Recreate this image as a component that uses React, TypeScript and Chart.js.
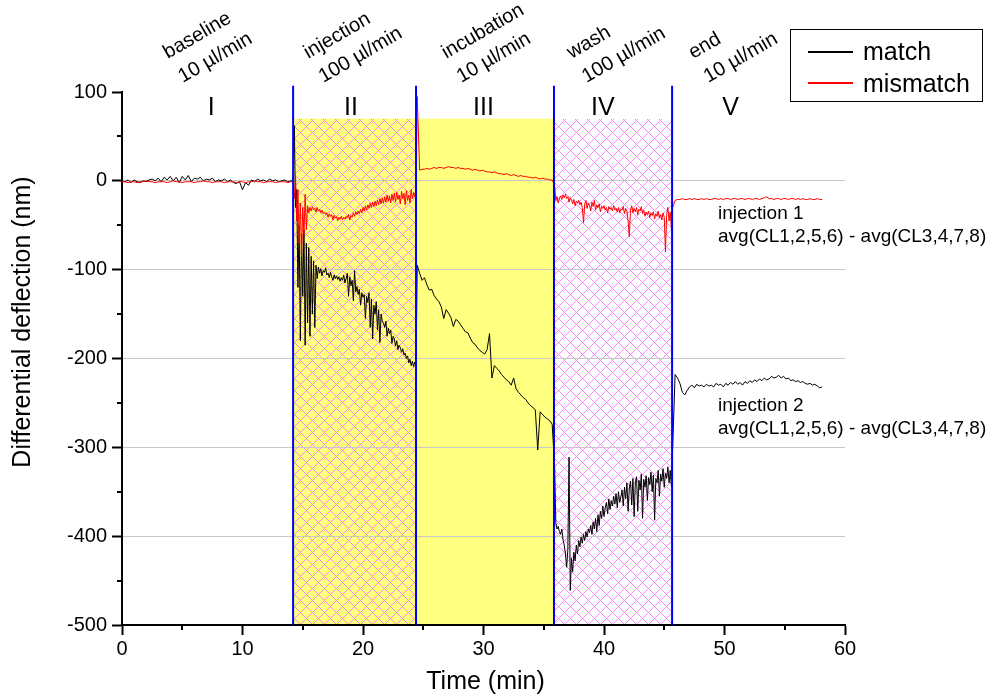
import { useEffect, useRef } from "react";
import { Chart, registerables } from "chart.js";

Chart.register(...registerables);

const FONT = '"Liberation Sans", Arial, Helvetica, sans-serif';

// ---- experiment phases (minutes) ----
const phaseEdges = [14.2, 24.4, 35.85, 45.65];
const phaseNames = ["baseline", "injection", "incubation", "wash", "end"];
const phaseFlows = ["10 µl/min", "100 µl/min", "10 µl/min", "100 µl/min", "10 µl/min"];
const phaseNumerals = ["I", "II", "III", "IV", "V"];
const numeralX = [7.4, 19.0, 30.0, 39.9, 50.5];
const phaseLabelX = [3.8, 15.45, 26.9, 37.3, 47.4];
const shadeTop = 70;

const xTicks = [0, 10, 20, 30, 40, 50, 60];
const yTicks = [-500, -400, -300, -200, -100, 0, 100];

// ---- match trace (nm) ----
// 0 – 14 min, every 0.25 min
const matchBaseline = [
  0, -1, 1, -2, 1, -1, -2, 0, -1, 1,
  2, 0, 3, -1, 4, 1, 5, 0, 4, -2,
  5, 1, 6, -1, 3, 2, 4, 0, 2, 1,
  3, -1, 1, 0, 2, -1, 1, -2, -3, -1,
  -10, -2, -5, 1, -1, 2, 0, 1, -1, 2,
  0, 1, -1, 0, 1, -1, 0,
];
// 14.2 – 24.4 min, every 0.1 min
const matchInjection = [
  0, 62, -30, -10, -120, -50, -180, -60, -130, -55,
  -185, -70, -160, -75, -175, -85, -150, -90, -165, -95,
  -110, -97, -104, -99, -107, -101, -103, -98, -106, -104,
  -109, -103, -108, -112, -106, -110, -107, -111, -108, -113,
  -109, -112, -106, -115, -110, -104, -130, -108, -118, -112,
  -135, -101, -125, -119, -128, -122, -140, -126, -131, -128,
  -155, -130, -137, -126, -165, -133, -178, -140, -150, -136,
  -168, -145, -182, -150, -158, -160, -165, -158, -175, -166,
  -172, -168, -183, -175, -178, -186, -180, -190, -185, -188,
  -193, -189, -196, -194, -200, -197, -205, -201, -208, -203,
  -209, -204, -208,
];
// 24.5 – 35.7 min, every 0.2 min
const matchIncubation = [
  -95, -104, -112, -109, -117, -123, -122, -129, -133, -136,
  -142, -155, -145, -149, -154, -164, -156, -158, -162, -166,
  -170, -171, -177, -182, -184, -188, -191, -193, -195, -190,
  -172, -222, -208, -211, -214, -218, -221, -224, -226, -230,
  -222, -234, -238, -241, -244, -246, -250, -253, -255, -258,
  -303, -260, -263, -266, -268, -270, -274,
];
// 35.9 – 45.6 min, every 0.1 min
const matchWash = [
  -320, -385, -392, -389, -395, -398, -392, -404, -410, -420,
  -435, -415, -311, -461, -425, -440, -418, -428, -410, -420,
  -405, -412, -401, -408, -398, -405, -395, -401, -392, -396,
  -388, -398, -384, -392, -380, -395, -376, -388, -372, -380,
  -366, -378, -368, -362, -375, -358, -370, -360, -366, -355,
  -364, -352, -368, -350, -362, -356, -348, -366, -345, -358,
  -340, -372, -346, -338, -365, -335, -378, -340, -333, -372,
  -337, -348, -330, -380, -336, -345, -332, -360, -334, -342,
  -328, -350, -331, -382, -335, -340, -326, -355, -330, -338,
  -324, -345, -329, -335, -322, -340, -326, -345,
];
// 45.7 – 58.1 min, every 0.2 min
const matchEnd = [
  -300, -218, -222, -228, -238, -241, -236, -232, -230, -233,
  -229, -231, -230, -232, -229, -231, -230, -232, -228, -230,
  -229, -232, -228, -230, -227, -229, -226, -229, -227, -230,
  -226, -228, -225, -227, -224, -226, -223, -225, -222, -224,
  -223, -220, -222, -221, -219, -222, -220, -223, -222, -225,
  -224, -226, -225, -227, -226, -228, -229, -228, -230, -229,
  -231, -233, -232,
];

// ---- mismatch trace (nm) ----
const mismatchBaseline = [
  -1, -1, -2, -1, -1, -2, -1, -1, 0, -1,
  -1, -2, -1, -1, -1, -2, -1, 0, -1, -1,
  -2, -1, -1, -1, -2, -1, -1, 0, -1, -1,
  -2, -1, -1, -1, -2, -1, -1, -1, -2, -1,
  -1, -2, -1, -1, 0, -1, -1, -2, -1, -1,
  -1, -2, -1, -1, -1, -2, -1,
];
const mismatchInjection = [
  -1, -20, 5, -45, -10, -70, -25, -85, -30, -60,
  -15, -55, -28, -36, -30, -34, -29, -33, -31, -35,
  -30, -34, -32, -36, -33, -37, -35, -38, -36, -41,
  -37, -40, -38, -44, -39, -42, -40, -45, -41, -43,
  -40, -44, -41, -43, -40, -42, -38, -44, -39, -41,
  -36, -40, -35, -38, -34, -37, -32, -36, -30, -34,
  -28, -33, -27, -31, -25, -30, -24, -29, -23, -28,
  -22, -27, -20, -26, -19, -25, -18, -24, -16, -23,
  -17, -25, -15, -22, -14, -24, -13, -21, -16, -26,
  -12, -20, -14, -27, -11, -22, -16, -25, -10, -20,
  -13, -18, -8,
];
const mismatchIncubation = [
  95, 12, 13, 13, 14, 13, 14, 15, 14, 15,
  15, 14, 15, 16, 15, 15, 14, 15, 14, 14,
  13, 14, 13, 12, 13, 12, 11, 12, 11, 10,
  10, 9, 10, 9, 8, 8, 7, 8, 7, 6,
  7, 6, 5, 6, 5, 5, 4, 4, 3, 4,
  3, 2, 3, 2, 2, 1, 1,
];
const mismatchWash = [
  -5, -22, -18, -25, -20, -17, -21, -16, -19, -15,
  -20, -18, -24, -19, -22, -26, -21, -28, -23, -25,
  -22, -27, -24, -30, -47, -26, -22, -31, -25, -28,
  -34, -24, -29, -22, -33, -27, -30, -26, -35, -29,
  -31, -28, -33, -30, -36, -29, -32, -30, -34, -28,
  -33, -31, -35, -30, -36, -32, -33, -29, -37, -31,
  -34, -45, -63, -33, -28, -36, -31, -35, -30, -38,
  -32, -34, -29, -37, -33, -40, -35, -38, -34, -41,
  -36, -39, -35, -43, -37, -40, -34, -42, -38, -44,
  -36, -41, -80, -38, -30, -45, -35, -55,
];
const mismatchEnd = [
  -30, -22, -21, -21, -20, -21, -21, -20, -21, -20,
  -21, -21, -20, -21, -20, -21, -21, -20, -20, -21,
  -20, -21, -20, -20, -21, -20, -20, -21, -20, -20,
  -21, -20, -20, -21, -20, -20, -21, -20, -19, -18,
  -20, -20, -21, -20, -20, -21, -20, -20, -21, -20,
  -20, -21, -20, -21, -20, -21, -21, -20, -21, -21,
  -20, -21, -21,
];

type Segment = { start: number; step: number; values: number[] };

const matchSegments: Segment[] = [
  { start: 0, step: 0.25, values: matchBaseline },
  { start: 14.2, step: 0.1, values: matchInjection },
  { start: 24.5, step: 0.2, values: matchIncubation },
  { start: 35.9, step: 0.1, values: matchWash },
  { start: 45.7, step: 0.2, values: matchEnd },
];
const mismatchSegments: Segment[] = [
  { start: 0, step: 0.25, values: mismatchBaseline },
  { start: 14.2, step: 0.1, values: mismatchInjection },
  { start: 24.5, step: 0.2, values: mismatchIncubation },
  { start: 35.9, step: 0.1, values: mismatchWash },
  { start: 45.7, step: 0.2, values: mismatchEnd },
];

function toPoints(segments: Segment[]) {
  return segments.flatMap((s) =>
    s.values.map((v, i) => ({ x: +(s.start + i * s.step).toFixed(3), y: v }))
  );
}

// crisp (pixel-aligned) diagonal cross-hatch inside a rectangle
function hatch(ctx: CanvasRenderingContext2D, x0: number, y0: number, w: number, h: number) {
  const period = 12;
  const left = Math.round(x0);
  const right = Math.round(x0 + w);
  const top = Math.round(y0);
  const bottom = Math.round(y0 + h);
  ctx.save();
  ctx.fillStyle = "#ff80ff";
  for (let py = top; py < bottom; py++) {
    for (let px = left; px < right; px++) {
      const a = (((px + py) % period) + period) % period;
      const b = (((px - py) % period) + period) % period;
      if (a === 0 || b === 0) ctx.fillRect(px, py, 1, 1);
    }
  }
  ctx.restore();
}

const decorations = {
  id: "decorations",
  beforeDraw(chart: any) {
    const { ctx, chartArea: a, scales } = chart;
    const x = scales.x;
    const y = scales.y;
    ctx.save();
    ctx.fillStyle = "#ffffff";
    ctx.fillRect(0, 0, chart.width, chart.height);
    const top = y.getPixelForValue(shadeTop);
    const h = a.bottom - top;
    const px = phaseEdges.map((v) => x.getPixelForValue(v));
    ctx.fillStyle = "#ffff80";
    ctx.fillRect(px[0], top, px[2] - px[0], h);
    hatch(ctx, px[0], top, px[1] - px[0], h);
    hatch(ctx, px[2], top, px[3] - px[2], h);
    ctx.restore();
  },
  afterDatasetsDraw(chart: any) {
    const { ctx, chartArea: a, scales } = chart;
    const x = scales.x;
    const y = scales.y;
    ctx.save();
    ctx.strokeStyle = "#0000ff";
    ctx.lineWidth = 2;
    const top = y.getPixelForValue(107);
    phaseEdges.forEach((v) => {
      const p = x.getPixelForValue(v);
      ctx.beginPath();
      ctx.moveTo(p, top);
      ctx.lineTo(p, a.bottom);
      ctx.stroke();
    });
    ctx.restore();
  },
  afterDraw(chart: any) {
    const { ctx, chartArea: a, scales } = chart;
    const x = scales.x;
    const y = scales.y;
    ctx.save();

    // minor ticks
    ctx.strokeStyle = "#000";
    ctx.lineWidth = 2;
    ctx.beginPath();
    for (let v = -450; v < 100; v += 100) {
      const p = Math.round(y.getPixelForValue(v));
      ctx.moveTo(a.left - 5, p);
      ctx.lineTo(a.left, p);
    }
    for (let v = 5; v < 60; v += 10) {
      const p = Math.round(x.getPixelForValue(v));
      ctx.moveTo(p, a.bottom);
      ctx.lineTo(p, a.bottom + 5);
    }
    ctx.stroke();

    ctx.fillStyle = "#000";

    // axis titles
    ctx.font = `25px ${FONT}`;
    ctx.textAlign = "center";
    ctx.textBaseline = "alphabetic";
    ctx.fillText("Time (min)", (a.left + a.right) / 2 + 2, 689);
    ctx.save();
    ctx.translate(30, 322);
    ctx.rotate(-Math.PI / 2);
    ctx.fillText("Differential deflection (nm)", 0, 0);
    ctx.restore();

    // phase numerals
    ctx.font = `25px ${FONT}`;
    phaseNumerals.forEach((t, i) => {
      ctx.fillText(t, x.getPixelForValue(numeralX[i]), 115);
    });

    // rotated phase descriptions
    ctx.font = `20px ${FONT}`;
    ctx.textAlign = "left";
    phaseNames.forEach((name, i) => {
      const sx = x.getPixelForValue(phaseLabelX[i]);
      ctx.save();
      ctx.translate(sx, 59);
      ctx.rotate(-Math.PI / 6);
      ctx.fillText(name, 0, 0);
      ctx.restore();
      ctx.save();
      ctx.translate(sx + 15, 83);
      ctx.rotate(-Math.PI / 6);
      ctx.fillText(phaseFlows[i], 0, 0);
      ctx.restore();
    });

    // trace annotations
    ctx.font = `19px ${FONT}`;
    const ax = 718;
    ctx.fillText("injection 1", ax, 219);
    ctx.fillText("avg(CL1,2,5,6) - avg(CL3,4,7,8)", ax, 242);
    ctx.fillText("injection 2", ax, 411);
    ctx.fillText("avg(CL1,2,5,6) - avg(CL3,4,7,8)", ax, 434);

    // legend
    ctx.lineWidth = 1;
    ctx.strokeStyle = "#000";
    ctx.strokeRect(790.5, 29.5, 192, 72);
    ctx.lineWidth = 2;
    ctx.beginPath();
    ctx.moveTo(808, 52);
    ctx.lineTo(853, 52);
    ctx.stroke();
    ctx.strokeStyle = "#ff0000";
    ctx.beginPath();
    ctx.moveTo(808, 83);
    ctx.lineTo(853, 83);
    ctx.stroke();
    ctx.font = `25px ${FONT}`;
    ctx.fillStyle = "#000";
    ctx.fillText("match", 863, 60);
    ctx.fillText("mismatch", 863, 92);

    ctx.restore();
  },
};

export default function App() {
  const ref = useRef<HTMLCanvasElement | null>(null);

  useEffect(() => {
    if (!ref.current) return;
    const chart = new Chart(ref.current, {
      type: "scatter",
      data: {
        datasets: [
          {
            label: "match",
            data: toPoints(matchSegments),
            showLine: true,
            borderColor: "#000000",
            borderWidth: 1,
            pointRadius: 0,
            order: 1,
          },
          {
            label: "mismatch",
            data: toPoints(mismatchSegments),
            showLine: true,
            borderColor: "#ff0000",
            borderWidth: 1,
            pointRadius: 0,
            order: 0,
          },
        ],
      },
      options: {
        animation: false,
        responsive: false,
        devicePixelRatio: 1,
        layout: { padding: { left: 0, top: 92, right: 147, bottom: 0 } },
        plugins: { legend: { display: false }, tooltip: { enabled: false } },
        scales: {
          x: {
            type: "linear",
            min: 0,
            max: 60,
            afterFit: (s: any) => {
              s.height = 69;
            },
            afterBuildTicks: (s: any) => {
              s.ticks = xTicks.map((v) => ({ value: v }));
            },
            ticks: { color: "#000", font: { family: FONT, size: 20 }, padding: 2, maxRotation: 0 },
            grid: { drawOnChartArea: false, tickColor: "#000", tickLength: 10, tickWidth: 2 },
            border: { color: "#000", width: 2 },
          },
          y: {
            type: "linear",
            min: -500,
            max: 100,
            afterFit: (s: any) => {
              s.width = 122;
            },
            afterBuildTicks: (s: any) => {
              s.ticks = yTicks.map((v) => ({ value: v }));
            },
            ticks: { color: "#000", font: { family: FONT, size: 20 }, padding: 5 },
            grid: {
              color: (c: any) => (c.tick && c.tick.value === 100 ? "rgba(0,0,0,0)" : "#c8c8c8"),
              lineWidth: 1,
              tickColor: "#000",
              tickLength: 10,
              tickWidth: 2,
            },
            border: { color: "#000", width: 2 },
          },
        },
      },
      plugins: [decorations],
    });
    return () => chart.destroy();
  }, []);

  return (
    <div style={{ position: "absolute", left: 0, top: 0, width: 992, height: 694 }}>
      <canvas ref={ref} width={992} height={694} style={{ display: "block" }} />
    </div>
  );
}
